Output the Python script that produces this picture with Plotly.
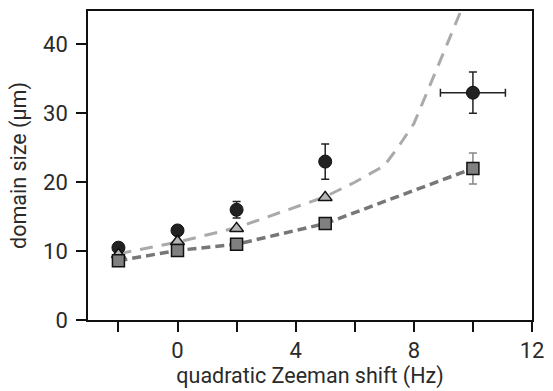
import plotly.graph_objects as go

# data
circ_x = [-2, 0, 2, 5, 10]
circ_y = [10.5, 13.0, 16.0, 23.0, 33.0]
circ_err = [0.6, 0.6, 1.2, 2.55, 3.0]
circ_xerr = [0, 0, 0, 0, 1.1]
tri_x = [-2, 0, 2, 5]
tri_y = [9.5, 11.4, 13.3, 17.8]
sq_x = [-2, 0, 2, 5, 10]
sq_y = [8.6, 10.1, 11.0, 14.0, 22.0]
sq_err = [0.0, 0.0, 0.0, 0.0, 2.25]
light_x = [-2, 0, 2, 5, 6, 7, 7.5, 8, 8.5, 9, 9.5, 9.8]
light_y = [9.6, 11.3, 13.4, 17.9, 20.0, 22.4, 25.3, 28.5, 33.6, 38.8, 43.8, 47.0]
x_ticks = [-2, 0, 2, 4, 6, 8, 10, 12]
x_labels = ["", "0", "", "4", "", "8", "", "12"]
y_ticks = [0, 10, 20, 30, 40]

fig = go.Figure()
fig.add_trace(go.Scatter(x=light_x, y=light_y, mode="lines",
                         line=dict(color="#aaaaaa", width=3, dash="13px,9px"),
                         showlegend=False, hoverinfo="skip"))
fig.add_trace(go.Scatter(x=sq_x, y=sq_y, mode="lines",
                         line=dict(color="#777777", width=3.5, dash="9px,5px"),
                         showlegend=False, hoverinfo="skip"))
fig.add_trace(go.Scatter(x=circ_x, y=circ_y, mode="markers",
                         marker=dict(symbol="circle", size=13, color="#222222",
                                     line=dict(color="#111111", width=1)),
                         error_y=dict(type="data", array=circ_err, color="#222222",
                                      thickness=1.5, width=4),
                         error_x=dict(type="data", array=circ_xerr, color="#222222",
                                      thickness=1.5, width=4),
                         showlegend=False))
fig.add_trace(go.Scatter(x=tri_x, y=tri_y, mode="markers",
                         marker=dict(symbol="triangle-up", size=12, color="#b4b4b4",
                                     line=dict(color="#111111", width=1.5)),
                         showlegend=False))
fig.add_trace(go.Scatter(x=sq_x, y=sq_y, mode="markers",
                         marker=dict(symbol="square", size=12, color="#808080",
                                     line=dict(color="#111111", width=1.5)),
                         error_y=dict(type="data", array=sq_err, color="#888888",
                                      thickness=1.5, width=4),
                         showlegend=False))

fam = "Roboto, Liberation Sans, Arial, sans-serif"
tick_font = dict(family=fam, size=22, color="#2a2a2a")
title_font = dict(family=fam, size=21.5, color="#2a2a2a")
fig.update_layout(
    width=553, height=391,
    margin=dict(l=88, r=13, t=9, b=68),
    paper_bgcolor="white", plot_bgcolor="white",
    font=dict(family=fam, size=21.5, color="#2a2a2a"),
    xaxis=dict(range=[-3.03, 12], tickvals=x_ticks, ticktext=x_labels,
               ticks="outside", ticklen=10, tickwidth=1.5, tickcolor="#111111",
               showline=True, linecolor="#111111", linewidth=1.5, mirror=True,
               showgrid=False, zeroline=False, ticklabelstandoff=0,
               tickfont=tick_font,
               title=dict(text="quadratic Zeeman shift (Hz)", standoff=4, font=title_font)),
    yaxis=dict(range=[0, 44.86], tickvals=y_ticks,
               ticks="outside", ticklen=10, tickwidth=1.5, tickcolor="#111111",
               showline=True, linecolor="#111111", linewidth=1.5, mirror=True,
               showgrid=False, zeroline=False, ticklabelstandoff=4,
               tickfont=tick_font,
               title=dict(text="domain size (μm)", standoff=11, font=title_font)),
)
fig.write_html("out.html")
